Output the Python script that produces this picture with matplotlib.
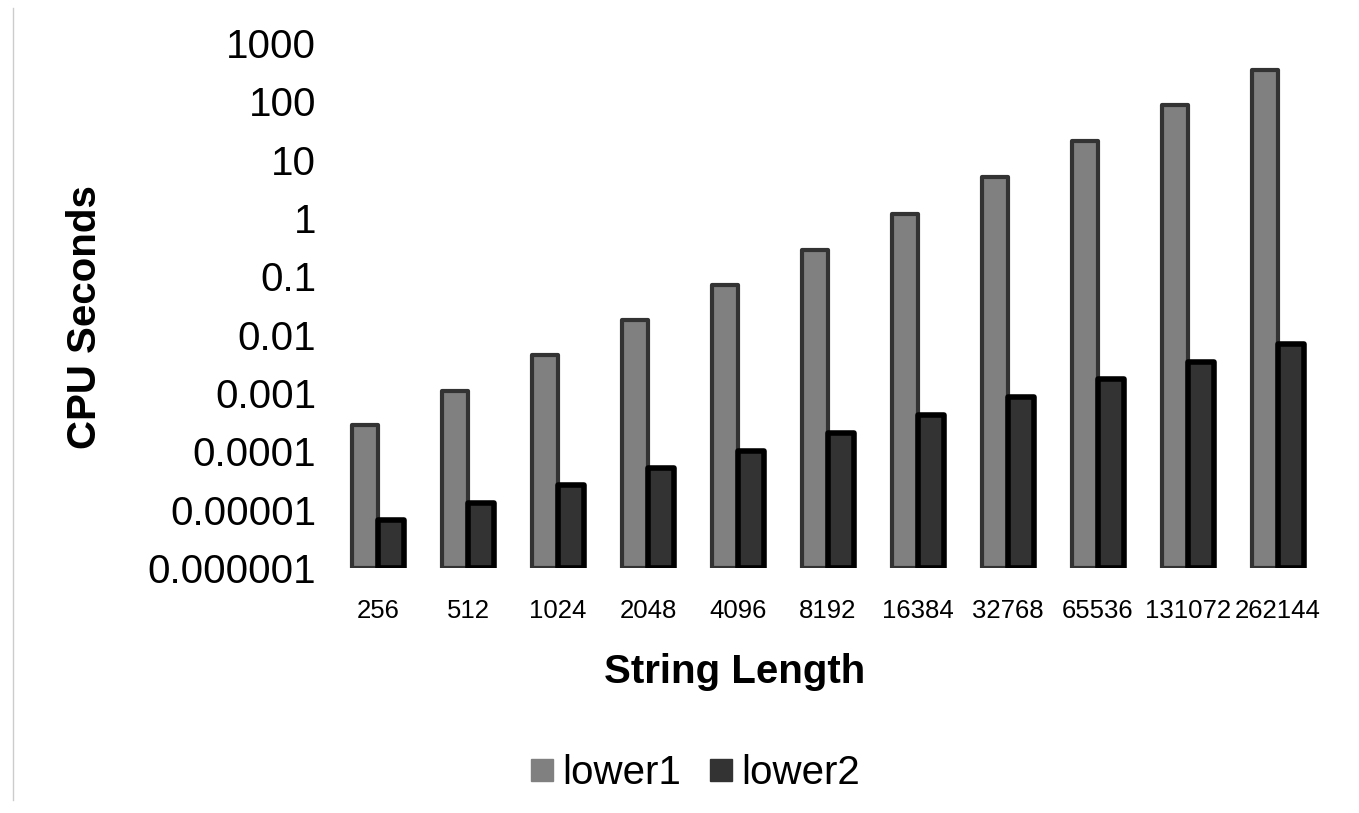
import numpy as np
import matplotlib
matplotlib.use('Agg')
import matplotlib.pyplot as plt
from matplotlib.lines import Line2D

plt.rcParams['font.family'] = ['Liberation Sans', 'DejaVu Sans']

lengths = ['256', '512', '1024', '2048', '4096', '8192', '16384',
           '32768', '65536', '131072', '262144']
lower1 = [2.8e-4, 1.1e-3, 4.5e-3, 1.8e-2, 7.0e-2, 0.28, 1.17,
          5.0, 21, 87, 345]
lower2 = [6.6e-6, 1.3e-5, 2.6e-5, 5.2e-5, 1.0e-4, 2.05e-4, 4.2e-4,
          8.5e-4, 1.74e-3, 3.4e-3, 6.9e-3]
yticks = [1e-6, 1e-5, 1e-4, 1e-3, 1e-2, 0.1, 1, 10, 100, 1000]
ytick_labels = ['0.000001', '0.00001', '0.0001', '0.001', '0.01', '0.1',
                '1', '10', '100', '1000']

fig = plt.figure(figsize=(13.59, 8.13), dpi=100)
ax = fig.add_axes([333 / 1359, 1 - 568 / 813, 990 / 1359, 525 / 813])

x = np.arange(len(lengths))
w = 0.29
ax.bar(x - w / 2, lower1, w, bottom=1e-6, color='#808080',
       edgecolor='#333333', linewidth=3, joinstyle='round', label='lower1')
ax.bar(x + w / 2, np.array(lower2) - 1e-6, w, bottom=1e-6, color='#333333',
       edgecolor='#000000', linewidth=4, joinstyle='round', label='lower2')

ax.set_yscale('log')
ax.set_ylim(1e-6, 1000)
ax.set_xlim(-0.5, len(lengths) - 0.5)
ax.set_yticks(yticks)
ax.set_yticklabels(ytick_labels, fontsize=29)
ax.minorticks_off()
ax.set_xticks(x)
ax.set_xticklabels(lengths, fontsize=18.5)
ax.tick_params(axis='y', length=0, pad=12)
ax.tick_params(axis='x', length=0, pad=22)
for s in ax.spines.values():
    s.set_visible(False)

ax.set_xlabel('String Length', fontsize=29, fontweight='bold')
ax.xaxis.set_label_coords((735 - 333) / 990, -(672 - 568) / 525)
ax.xaxis.label.set_va('center')
ax.set_ylabel('CPU Seconds', fontsize=29, fontweight='bold')
ax.yaxis.set_label_coords((85 - 333) / 990, (568 - 317) / 525)
ax.yaxis.label.set_va('center')

handles = [Line2D([], [], marker='s', linestyle='none', markersize=16,
                  markerfacecolor=c, markeredgecolor=c) for c in ['#808080', '#333333']]
fig.legend(handles, ['lower1', 'lower2'], loc='center', bbox_to_anchor=(693 / 1359, 1 - 773 / 813),
           ncol=2, frameon=False, fontsize=29, handletextpad=0.1, columnspacing=0.6,
           handlelength=0.8)

fig.add_artist(Line2D([13 / 1359, 13 / 1359], [1 - 800 / 813, 1 - 8 / 813],
                      color='#cccccc', linewidth=1))

fig.savefig('out.png', dpi=100)
